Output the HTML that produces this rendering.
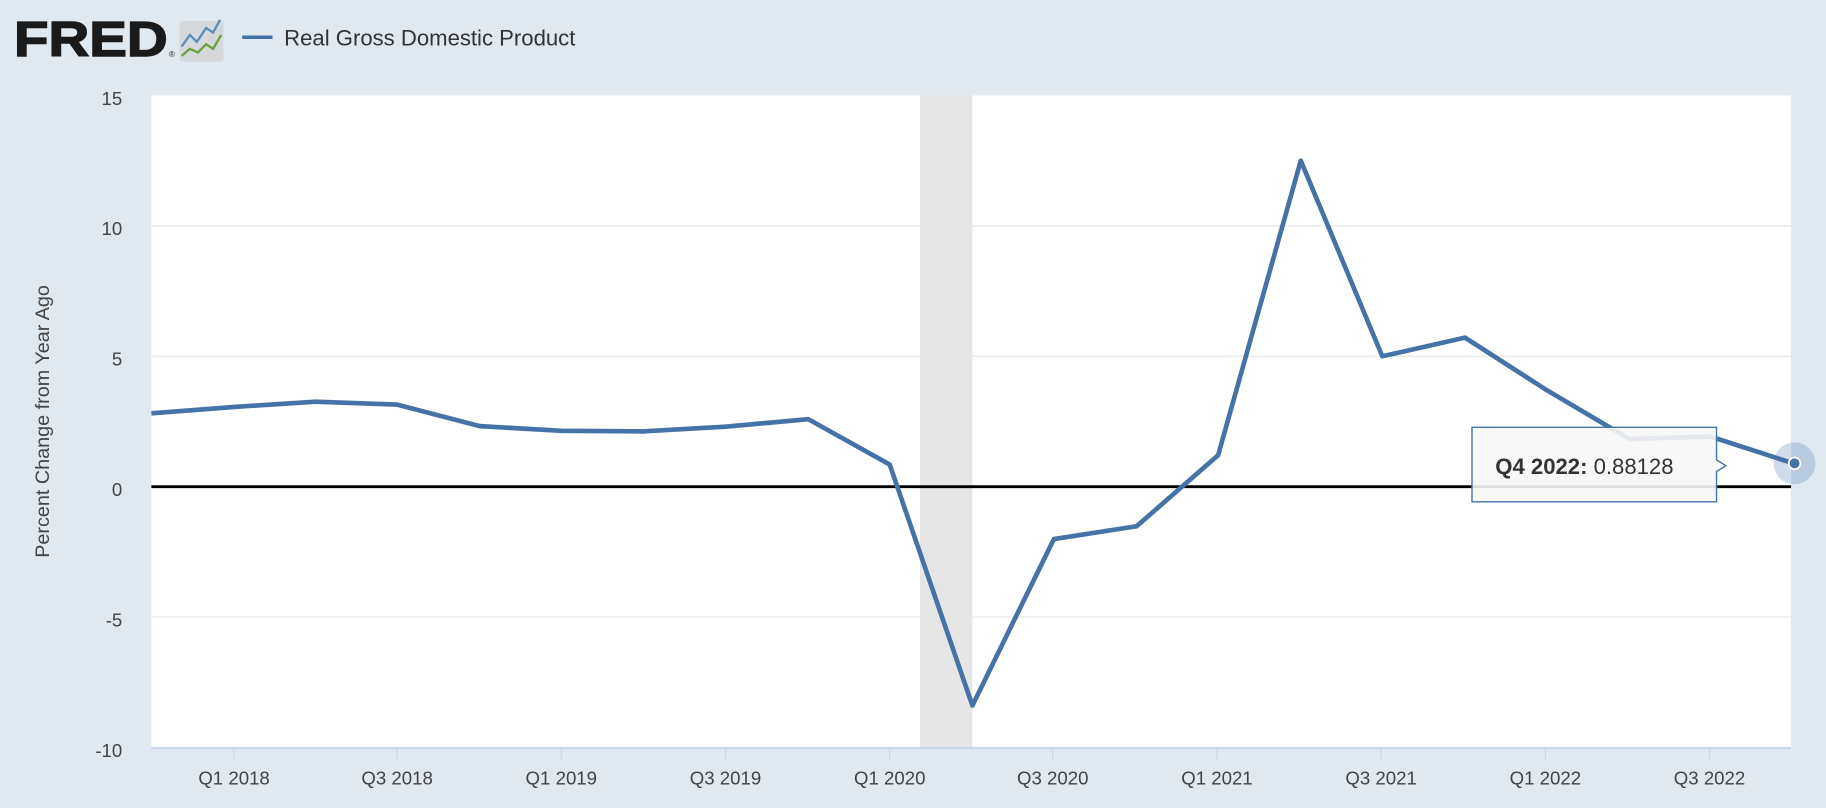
<!DOCTYPE html>
<html><head><meta charset="utf-8"><style>
html,body{margin:0;padding:0;background:#e1e9f0;}
svg{display:block}
</style></head><body>
<svg width="1826" height="808" viewBox="0 0 1568 694" preserveAspectRatio="none" xmlns="http://www.w3.org/2000/svg" font-family="Liberation Sans, sans-serif">
<rect width="1568" height="694" fill="#e1e9f0"/>
<text x="12" y="48" font-size="42" font-weight="900" fill="#1a1a1a" textLength="132" lengthAdjust="spacingAndGlyphs" stroke="#1a1a1a" stroke-width="1.2">FRED</text>
<text x="145" y="49" font-size="7" fill="#333">®</text>
<rect x="154" y="18" width="38" height="35" rx="3" fill="#d6d9dc"/>
<polyline points="156,40 163,30 169,36 177,24 183,28 189,17" fill="none" stroke="#5b8fb9" stroke-width="2"/>
<polyline points="156,48 163,42 170,45 177,38 183,42 190,30" fill="none" stroke="#6aa040" stroke-width="2"/>
<line x1="208" y1="32" x2="234" y2="32" stroke="#4572a7" stroke-width="3"/>
<text x="244" y="39" font-size="19" fill="#333">Real Gross Domestic Product</text>
<rect x="130" y="82" width="1408" height="560" fill="#fff"/>
<rect x="790" y="82" width="45" height="560" fill="#e6e6e6"/>
<g stroke="#e6e6e6" stroke-width="1">
<line x1="130" y1="194" x2="1538" y2="194"/><line x1="130" y1="306" x2="1538" y2="306"/><line x1="130" y1="530" x2="1538" y2="530"/>
</g>
<line x1="130" y1="642.5" x2="1538" y2="642.5" stroke="#ccd6eb" stroke-width="2"/>
<g stroke="#ccd6eb" stroke-width="1">
<line x1="201" y1="643" x2="201" y2="653"/><line x1="341" y1="643" x2="341" y2="653"/><line x1="482" y1="643" x2="482" y2="653"/><line x1="623" y1="643" x2="623" y2="653"/><line x1="764" y1="643" x2="764" y2="653"/><line x1="904" y1="643" x2="904" y2="653"/><line x1="1045" y1="643" x2="1045" y2="653"/><line x1="1186" y1="643" x2="1186" y2="653"/><line x1="1327" y1="643" x2="1327" y2="653"/><line x1="1468" y1="643" x2="1468" y2="653"/>
</g>
<line x1="130" y1="418" x2="1538" y2="418" stroke="#000" stroke-width="2.5"/>
<g font-size="16" fill="#444" text-anchor="end">
<text x="105" y="90">15</text><text x="105" y="202">10</text><text x="105" y="314">5</text><text x="105" y="426">0</text><text x="105" y="538">-5</text><text x="105" y="650">-10</text>
</g>
<g font-size="16" fill="#444" text-anchor="middle">
<text x="201" y="674">Q1 2018</text><text x="341" y="674">Q3 2018</text><text x="482" y="674">Q1 2019</text><text x="623" y="674">Q3 2019</text><text x="764" y="674">Q1 2020</text><text x="904" y="674">Q3 2020</text><text x="1045" y="674">Q1 2021</text><text x="1186" y="674">Q3 2021</text><text x="1327" y="674">Q1 2022</text><text x="1468" y="674">Q3 2022</text>
</g>
<text transform="translate(42,362) rotate(-90)" font-size="17" fill="#444" text-anchor="middle">Percent Change from Year Ago</text>
<polyline fill="none" stroke="#4572a7" stroke-width="4" stroke-linejoin="round" points="130,355 200,349.6 271,345 341,347.5 412,366 482,370 553,370.5 623,366.5 694,360 764,399 835,606 905,463 976,452 1046,391 1117,138 1187,306 1258,290 1328,335 1399,377 1469,375 1540,398"/>
<circle cx="1541" cy="398" r="18" fill="#4572a7" fill-opacity="0.25"/>
<circle cx="1541" cy="398" r="5" fill="#4572a7" stroke="#fff" stroke-width="1.5"/>
<path d="M1264,367 H1474 V395 L1482,400 L1474,405 V431 H1264 Z" fill="#f7f7f7" fill-opacity="0.9" stroke="#4572a7" stroke-width="1.2"/>
<text x="1284" y="407" font-size="19" fill="#333"><tspan font-weight="bold">Q4 2022:</tspan> 0.88128</text>
</svg>
</body></html>
